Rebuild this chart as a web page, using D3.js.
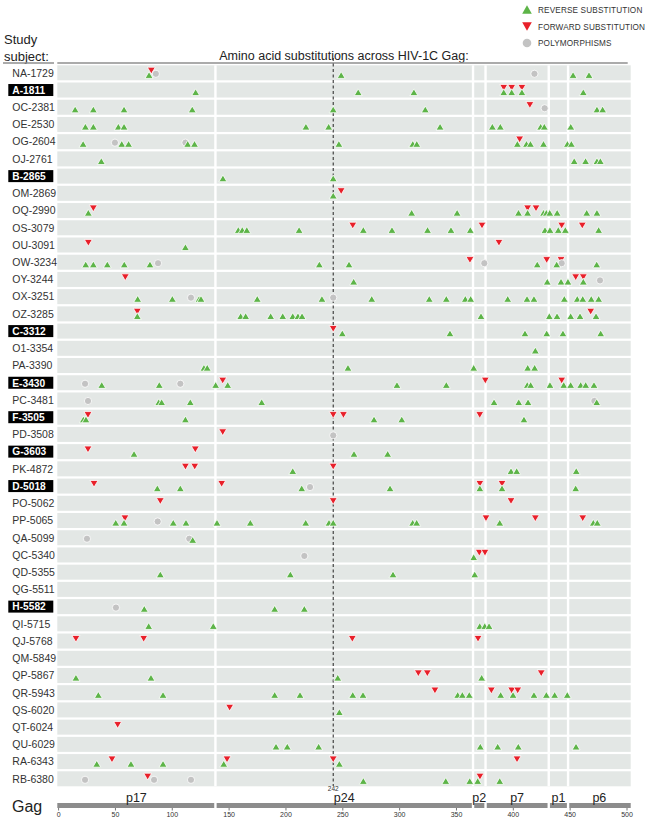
<!DOCTYPE html>
<html><head><meta charset="utf-8">
<script src="https://cdn.jsdelivr.net/npm/d3@7"></script>
<style>body{margin:0;background:#fff;} svg{display:block;font-family:Arial,"Liberation Sans",sans-serif;}</style>
</head><body><svg id="c" width="655" height="823"></svg>
<script>
const subjects = ["NA-1729","A-1811","OC-2381","OE-2530","OG-2604","OJ-2761","B-2865","OM-2869","OQ-2990","OS-3079","OU-3091","OW-3234","OY-3244","OX-3251","OZ-3285","C-3312","O1-3354","PA-3390","E-3430","PC-3481","F-3505","PD-3508","G-3603","PK-4872","D-5018","PO-5062","PP-5065","QA-5099","QC-5340","QD-5355","QG-5511","H-5582","QI-5715","QJ-5768","QM-5849","QP-5867","QR-5943","QS-6020","QT-6024","QU-6029","RA-6343","RB-6380"];
const highlighted = ["A-1811","B-2865","C-3312","E-3430","F-3505","G-3603","D-5018","H-5582"];

const reverseSubs = [
 [80,249,453,467],
 [121,264,313,392,399,408,462],
 [15,31,58,118,242,323,474,479],
 [24,31,53,58,218,238,336,382,389,424.5,427.7,451],
 [22,56,62,114,120,247,312,315.5,404,412,415.5,427,448,451.5],
 [38,454,464,474,477],
 [145,242],
 [242],
 [26.6,311,351,405,413,427,429.5,432.5,439,465,474],
 [158.5,162,166,212,268.5,293.7,325,345.6,362.6,428.3,432.7,440,446.2,475.5],
 [112],
 [24.3,31,43.3,58.2,80.8,229.8,255.9,421.5,438.6,473.8],
 [260,430.3,442.4,448.5,462],
 [70,100.5,124,125.7,175.2,232.1,275.9,326.5,341.5,358.2,362.9,395.5,412.5,418.6,445.3,456.7,461.5,469,475.5],
 [69.7,160.6,165,187,197.6,206.4,211,214.6,372,432.1,438.9,450.9,459.1,473.2],
 [250,344.7,410.7,429.8,444.1,477.3],
 [419.8],
 [128.3,131.2,255,365.6,413.1,419.2],
 [38.4,89,138.6,149.2,298.1,341.5,412.7,415.7,432.7,444.8,450.9,459.7,464.1,471.4],
 [88.5,91.1,116.3,179.1,383.5,405.2,413.4,473.8],
 [22.2,24.5,112,277.9,302.3,409.8],
 [],
 [66.8,260.3,289.9],
 [206.4,398.4,403.4,455.8],
 [87.3,107.5,214.3,292,371,390.5,455.3],
 [],
 [50.7,58,101.3,112.5,139.8,169.1,217.8,238.3,242,311.9,315.4,388.5,470.8,474.3],
 [118.4],
 [365.6],
 [89.9,204.3,294.6,366.5],
 [],
 [75.8,190.5,216.6],
 [79.7,136.5,370.9,375.3,379.1],
 [],
 [],
 [15.7,81.7,246,372.6],
 [35.4,92.3,190.5,212.8,259.2,268.2,351.5,355.6,361.7,389.3,400.2,418.6,429.5,436.8,447.9],
 [247.4],
 [],
 [191.7,201.6,229.2,371.4,386.7,404.8,455.6],
 [34,64.1,92.3,145.7,247.4],
 [268.5,341,362.1,369.1,388.5]
];

const forwardSubs = [
 [82],
 [392,399,408],
 [415],
 [],
 [406],
 [],
 [],
 [249],
 [31,413,420.4],
 [259.2,372.9,443,461.1],
 [26.6,387.8],
 [362.3,429.8,442.4],
 [59.1,455.3,462],
 [],
 [69.7,468.5],
 [242],
 [],
 [],
 [144.8,375.8,443],
 [],
 [26.3,242,251,370.9],
 [144.8],
 [26.3,120.7],
 [112,120.2,242],
 [31.6,143.9,371,390.5],
 [89.9,242,398.4],
 [58.8,376.4,419.8,461.5],
 [],
 [370.5,375.5],
 [],
 [],
 [],
 [],
 [15.7,75.3,258.8,369.4],
 [],
 [316.9,324.8,425],
 [331.5,381.1,399,404.3],
 [150.9],
 [52.4],
 [],
 [47.4,148.6,242,403.7],
 [78.8,371.1]
];

const polymorphisms = [
 [86,419],
 [],
 [428],
 [],
 [50,112],
 [],[],[],[],[],[],
 [87.9,374.9,443],
 [476.7],
 [116.9,242],
 [],[],[],[],
 [23.7,107.5],
 [26.3,471.7],
 [],
 [242],
 [],[],
 [221.6],
 [],
 [87.6],
 [25.4,115.4],
 [216.6],
 [],[],
 [50.9],
 [],[],[],[],[],[],[],[],[],
 [23.7,84.4,116.9]
];

const regionNames = ["p17","p24","p2","p7","p1","p6"];
const regionBounds = [-0.7,138.4,365,376,431.6,448.6,503.7];
const tickValues = [0,50,100,150,200,250,300,350,400,450,500];
const markedPosition = 242;
const legendLabels = ["REVERSE SUBSTITUTION","FORWARD SUBSTITUTION","POLYMORPHISMS"];

const COL_G = "#5db448", COL_R = "#e8202a", COL_P = "#c3c3c3", BAND = "#e3e7e5";

const svg = d3.select("#c");
const x = d3.scaleLinear().domain([0,500]).range([58.1,626.5]);
const y = d3.scaleBand().domain(subjects).range([65.3,786.3]).paddingInner(0.129).paddingOuter(0);
const bw = y.bandwidth();

// bands
svg.append("g").selectAll("rect").data(subjects).join("rect")
  .attr("x", x(regionBounds[0])).attr("width", x(regionBounds[6]) - x(regionBounds[0]))
  .attr("y", d => y(d)).attr("height", bw).attr("fill", BAND);

// region separators
const topY = y(subjects[0]), botY = y(subjects[subjects.length-1]) + bw;
svg.append("g").selectAll("rect").data(regionBounds.slice(1,-1)).join("rect")
  .attr("x", d => x(d) - 1.2).attr("width", 2.4)
  .attr("y", topY).attr("height", botY - topY).attr("fill", "#fff");

// header
svg.append("text").attr("x",4).attr("y",44).attr("font-size",13).attr("fill","#222").text("Study");
svg.append("text").attr("x",4).attr("y",61).attr("font-size",13).attr("fill","#222").text("subject:");
svg.append("text").attr("x",(x(regionBounds[0])+x(regionBounds[6]))/2).attr("y",60).attr("text-anchor","middle")
  .attr("font-size",12.5).attr("fill","#222").text("Amino acid substitutions across HIV-1C Gag:");
svg.append("line").attr("x1",3).attr("x2",54).attr("y1",63).attr("y2",63).attr("stroke","#8f8f8f").attr("stroke-width",1.5);
svg.append("line").attr("x1",x(regionBounds[0])).attr("x2",x(regionBounds[6])-3).attr("y1",63).attr("y2",63).attr("stroke","#8f8f8f").attr("stroke-width",1.5);

// dashed line
svg.append("line").attr("x1",x(markedPosition)).attr("x2",x(markedPosition)).attr("y1",58).attr("y2",786)
  .attr("stroke","#222").attr("stroke-width",1).attr("stroke-dasharray","3,2.5");
svg.append("text").attr("x",x(markedPosition)).attr("y",791).attr("text-anchor","middle").attr("font-size",6.5).attr("fill","#333").text(markedPosition);

// markers
const upTri = (cx,cy,w=4,h1=1.2,h2=5.6) => `M${cx-w},${cy+h2}L${cx+w},${cy+h2}L${cx},${cy-h1}Z`;
const downTri = (cx,cy,w=4,h1=1.2,h2=5.6) => `M${cx-w},${cy-h2}L${cx+w},${cy-h2}L${cx},${cy+h1}Z`;
const flat = arr => subjects.flatMap((s,i) => arr[i].map(v => ({s, v})));

const mg = svg.append("g");
mg.selectAll("path.f").data(flat(forwardSubs)).join("path").attr("class","f")
  .attr("d", d => downTri(x(d.v), y(d.s)+bw/2)).attr("fill",COL_R).attr("stroke","#fff").attr("stroke-width",0.8);
mg.selectAll("circle.p").data(flat(polymorphisms)).join("circle").attr("class","p")
  .attr("cx", d => x(d.v)).attr("cy", d => y(d.s)+bw/2+1).attr("r",3.6)
  .attr("fill",COL_P).attr("stroke","#fff").attr("stroke-width",0.8);
mg.selectAll("path.r").data(flat(reverseSubs)).join("path").attr("class","r")
  .attr("d", d => upTri(x(d.v), y(d.s)+bw/2)).attr("fill",COL_G).attr("stroke","#fff").attr("stroke-width",0.8);

// row labels
const lg = svg.append("g").selectAll("g").data(subjects).join("g")
  .attr("transform", d => `translate(0,${y(d)+bw/2})`);
lg.filter(d => highlighted.includes(d)).append("rect")
  .attr("x",8.3).attr("y",-6).attr("width",45).attr("height",12).attr("fill","#000");
lg.append("text").attr("x",12.3).attr("y",3.8)
  .attr("font-size", d => highlighted.includes(d) ? 10.2 : 10.5)
  .attr("font-weight", d => highlighted.includes(d) ? "bold" : "normal")
  .attr("fill", d => highlighted.includes(d) ? "#fff" : "#333")
  .text(d => d);

// legend
const leg = svg.append("g");
const legY = [9.5, 26.5, 43];
leg.append("path").attr("d", upTri(527, legY[0], 4.8, 4.3, 4.3)).attr("fill",COL_G);
leg.append("path").attr("d", downTri(527, legY[1], 4.8, 4.3, 4.3)).attr("fill",COL_R);
leg.append("circle").attr("cx",527).attr("cy",legY[2]).attr("r",4.3).attr("fill",COL_P);
leg.selectAll("text").data(legendLabels).join("text")
  .attr("x",538).attr("y",(d,i)=>legY[i]+3).attr("font-size",8.2).attr("letter-spacing",0.15)
  .attr("fill","#333").text(d=>d);

// Gag bar
const gg = svg.append("g");
gg.append("text").attr("x",12).attr("y",812).attr("font-size",16).attr("fill","#222").text("Gag");
const segs = regionNames.map((n,i)=>({n, a:regionBounds[i], b:regionBounds[i+1]}));
gg.selectAll("rect").data(segs).join("rect")
  .attr("x", d => x(d.a) + (d.a === regionBounds[0] ? 0 : 1.2))
  .attr("width", d => x(d.b) - x(d.a) - (d.a === regionBounds[0] ? 1.2 : 2.4) + (d.b === regionBounds[6] ? 1.2 : 0))
  .attr("y",803).attr("height",5).attr("fill","#8c8c8c");
gg.selectAll("text.seg").data(segs).join("text").attr("class","seg")
  .attr("x", d => (x(d.a)+x(d.b))/2).attr("y",801.5).attr("text-anchor","middle")
  .attr("font-size",12.5).attr("fill","#222").text(d => d.n);

// axis
const ax = svg.append("g").attr("transform","translate(0,808)")
  .call(d3.axisBottom(x).tickValues(tickValues).tickSize(2.5).tickPadding(1.5));
ax.select(".domain").remove();
ax.selectAll("line").attr("stroke","#777");
ax.selectAll("text").attr("font-size",7).attr("fill","#333").attr("font-family","Arial,'Liberation Sans',sans-serif");
</script></body></html>
